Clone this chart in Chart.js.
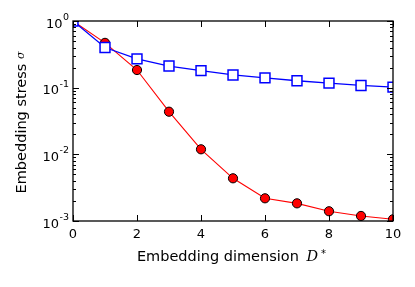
<!DOCTYPE html>
<html>
<head>
<meta charset="utf-8">
<script src="https://cdn.jsdelivr.net/npm/chart.js@4"></script>
<style>
html,body{margin:0;padding:0;background:#fff;}
#wrap{width:415px;height:287px;}
</style>
</head>
<body>
<div id="wrap"><canvas id="c" width="415" height="287"></canvas></div>
<script>
// Data
const dims = [0, 1, 2, 3, 4, 5, 6, 7, 8, 9, 10];
const stressRed = [1.0, 0.47, 0.184, 0.0436, 0.0119, 0.00437, 0.00219, 0.00184, 0.0014, 0.00119, 0.00106];
const stressBlue = [1.0, 0.40, 0.27, 0.211, 0.18, 0.155, 0.14, 0.127, 0.117, 0.108, 0.102];
const xTickValues = [0, 2, 4, 6, 8, 10];
const yTickExponents = [0, -1, -2, -3];
const xTitle = 'Embedding dimension ';
const yTitle = 'Embedding stress ';

const FONT = '"DejaVu Sans", sans-serif';

function seg(ctx, x1, y1, x2, y2) {
  ctx.beginPath(); ctx.moveTo(x1, y1); ctx.lineTo(x2, y2); ctx.stroke();
}

const framePlugin = {
  id: 'framePlugin',
  afterDatasetsDraw(chart) {
    const ctx = chart.ctx;
    const a = chart.chartArea;
    const xs = chart.scales.x, ys = chart.scales.y;
    ctx.save();
    ctx.strokeStyle = '#000';
    ctx.lineWidth = 1;
    // x major ticks (inward, top and bottom)
    xTickValues.forEach(v => {
      const px = Math.round(xs.getPixelForValue(v)) + 0.5;
      seg(ctx, px, a.bottom, px, a.bottom - 6);
      seg(ctx, px, a.top, px, a.top + 6);
    });
    // y major ticks
    yTickExponents.forEach(e => {
      const py = Math.round(ys.getPixelForValue(Math.pow(10, e))) + 0.5;
      seg(ctx, a.left, py, a.left + 6, py);
      seg(ctx, a.right, py, a.right - 6, py);
    });
    // y minor ticks
    for (let e = -3; e < 0; e++) {
      for (let m = 2; m <= 9; m++) {
        const py = Math.round(ys.getPixelForValue(m * Math.pow(10, e))) + 0.5;
        seg(ctx, a.left, py, a.left + 3, py);
        seg(ctx, a.right, py, a.right - 3, py);
      }
    }
    // frame
    ctx.lineWidth = 1.3;
    ctx.strokeRect(a.left, a.top, a.right - a.left, a.bottom - a.top);

    ctx.fillStyle = '#000';
    // x tick labels
    ctx.font = '13px ' + FONT;
    ctx.textAlign = 'center';
    ctx.textBaseline = 'top';
    xTickValues.forEach(v => {
      ctx.fillText(String(v), xs.getPixelForValue(v), a.bottom + 7);
    });
    // y tick labels 10^e
    yTickExponents.forEach(e => {
      const py = ys.getPixelForValue(Math.pow(10, e));
      const sup = e === 0 ? '0' : '-' + String(-e);
      ctx.font = '9.5px ' + FONT;
      const wSup = ctx.measureText(sup).width;
      const right = a.left - 4;
      ctx.textAlign = 'left';
      ctx.textBaseline = 'alphabetic';
      ctx.fillText(sup, right - wSup, py - 1);
      ctx.font = '13px ' + FONT;
      ctx.textAlign = 'right';
      ctx.fillText('10', right - wSup - 0.5, py + 6.5);
    });
    // x axis title
    ctx.font = '14.5px ' + FONT;
    ctx.textBaseline = 'alphabetic';
    const w1 = ctx.measureText(xTitle).width + 3;
    ctx.font = 'italic 14.5px "DejaVu Serif", serif';
    const wD = ctx.measureText('D').width + 3;
    ctx.font = '10px ' + FONT;
    const wS = ctx.measureText('*').width;
    const total = w1 + wD + wS;
    const cx = (a.left + a.right) / 2 - 1.5;
    let sx = cx - total / 2;
    const by = 261;
    ctx.textAlign = 'left';
    ctx.font = '14.5px ' + FONT;
    ctx.fillText(xTitle, sx, by);
    ctx.font = 'italic 14.5px "DejaVu Serif", serif';
    ctx.fillText('D', sx + w1, by);
    ctx.font = '10px ' + FONT;
    ctx.fillText('*', sx + w1 + wD, by - 4);

    // y axis title (rotated)
    ctx.save();
    const cy = (a.top + a.bottom) / 2 + 1.5;
    ctx.translate(26, cy);
    ctx.rotate(-Math.PI / 2);
    ctx.font = '14.5px ' + FONT;
    const wy = ctx.measureText(yTitle).width;
    ctx.font = 'italic 11px "DejaVu Serif", serif';
    const ws = ctx.measureText('σ').width;
    const tot2 = wy + ws;
    ctx.textAlign = 'left';
    ctx.font = '14.5px ' + FONT;
    ctx.fillText(yTitle, -tot2 / 2, 0);
    ctx.font = 'italic 11px "DejaVu Serif", serif';
    ctx.fillText('σ', -tot2 / 2 + wy, -2);
    ctx.restore();

    ctx.restore();
  }
};

new Chart(document.getElementById('c'), {
  type: 'line',
  data: {
    labels: dims,
    datasets: [
      {
        label: 'blue',
        data: dims.map((d, i) => ({x: d, y: stressBlue[i]})),
        borderColor: '#0000ff',
        borderWidth: 1.3,
        pointStyle: 'rect',
        pointRadius: 7,
        pointBackgroundColor: '#ffffff',
        pointBorderColor: '#0000ff',
        pointBorderWidth: 1.5,
        tension: 0,
        clip: 0
      },
      {
        label: 'red',
        data: dims.map((d, i) => ({x: d, y: stressRed[i]})),
        borderColor: '#ff0000',
        borderWidth: 1.1,
        pointStyle: 'circle',
        pointRadius: 4.6,
        pointBackgroundColor: '#ff0000',
        pointBorderColor: '#000000',
        pointBorderWidth: 1,
        tension: 0,
        clip: 0
      }
    ]
  },
  options: {
    responsive: false,
    animation: false,
    events: [],
    layout: {padding: {left: 73, top: 21, right: 22, bottom: 66}},
    plugins: {legend: {display: false}, tooltip: {enabled: false}},
    scales: {
      x: {type: 'linear', min: 0, max: 10, display: false},
      y: {type: 'logarithmic', min: 0.001, max: 1, display: false}
    }
  },
  plugins: [framePlugin]
});
</script>
</body>
</html>
